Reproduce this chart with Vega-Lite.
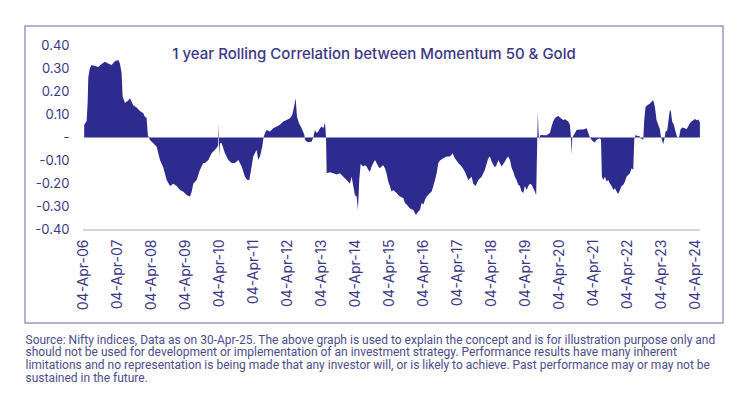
{
  "$schema": "https://vega.github.io/schema/vega-lite/v6.json",
  "width": 698,
  "height": 297,
  "padding": {"left": 25, "top": 26, "right": 27, "bottom": 0},
  "background": "white",
  "config": {
    "view": {"stroke": "#9a97c8", "strokeWidth": 1.5},
    "font": "Inter",
    "axis": {"labelOverlap": false}
  },
  "title": {
    "text": "1 year Rolling Correlation between Momentum 50 & Gold",
    "anchor": "middle",
    "offset": -36,
    "font": "Inter",
    "fontSize": 15,
    "fontWeight": 500,
    "color": "#3b3785"
  },
  "data": {
    "values": [
      {"date":"2006-04-14","v":0.054},{"date":"2006-04-29","v":0.065},{"date":"2006-05-10","v":0.07},{"date":"2006-05-21","v":0.15},{"date":"2006-05-28","v":0.26},{"date":"2006-06-14","v":0.30},{"date":"2006-07-02","v":0.314},{"date":"2006-08-07","v":0.31},{"date":"2006-09-12","v":0.305},{"date":"2006-10-18","v":0.318},{"date":"2006-11-23","v":0.328},{"date":"2006-12-28","v":0.32},{"date":"2007-02-02","v":0.314},{"date":"2007-03-10","v":0.33},{"date":"2007-04-15","v":0.335},{"date":"2007-05-03","v":0.32},{"date":"2007-05-21","v":0.278},{"date":"2007-06-01","v":0.177},{"date":"2007-06-26","v":0.149},{"date":"2007-07-31","v":0.16},{"date":"2007-08-18","v":0.17},{"date":"2007-09-23","v":0.14},{"date":"2007-10-29","v":0.13},{"date":"2007-12-04","v":0.115},{"date":"2008-01-08","v":0.105},{"date":"2008-01-26","v":0.09},{"date":"2008-02-13","v":0.085},{"date":"2008-02-27","v":0.01},{"date":"2008-03-20","v":-0.011},{"date":"2008-04-25","v":-0.025},{"date":"2008-06-01","v":-0.04},{"date":"2008-07-06","v":-0.097},{"date":"2008-08-11","v":-0.13},{"date":"2008-09-16","v":-0.184},{"date":"2008-10-22","v":-0.21},{"date":"2008-11-27","v":-0.20},{"date":"2009-01-01","v":-0.21},{"date":"2009-02-06","v":-0.227},{"date":"2009-03-14","v":-0.235},{"date":"2009-04-19","v":-0.249},{"date":"2009-05-25","v":-0.255},{"date":"2009-06-12","v":-0.235},{"date":"2009-06-29","v":-0.20},{"date":"2009-08-04","v":-0.184},{"date":"2009-09-09","v":-0.14},{"date":"2009-10-15","v":-0.11},{"date":"2009-11-02","v":-0.11},{"date":"2009-12-08","v":-0.097},{"date":"2010-01-12","v":-0.068},{"date":"2010-02-17","v":-0.053},{"date":"2010-03-17","v":-0.04},{"date":"2010-03-24","v":-0.03},{"date":"2010-03-28","v":0.063},{"date":"2010-04-01","v":-0.02},{"date":"2010-04-05","v":-0.08},{"date":"2010-04-12","v":-0.025},{"date":"2010-04-30","v":-0.025},{"date":"2010-06-04","v":-0.068},{"date":"2010-07-10","v":-0.097},{"date":"2010-08-15","v":-0.11},{"date":"2010-09-20","v":-0.11},{"date":"2010-10-26","v":-0.097},{"date":"2010-12-01","v":-0.126},{"date":"2011-01-05","v":-0.17},{"date":"2011-01-30","v":-0.184},{"date":"2011-02-20","v":-0.184},{"date":"2011-03-06","v":-0.155},{"date":"2011-04-04","v":-0.082},{"date":"2011-05-10","v":-0.053},{"date":"2011-05-28","v":-0.097},{"date":"2011-06-15","v":-0.082},{"date":"2011-07-10","v":-0.04},{"date":"2011-07-24","v":0.0},{"date":"2011-08-08","v":0.019},{"date":"2011-08-25","v":0.033},{"date":"2011-10-01","v":0.026},{"date":"2011-11-05","v":0.04},{"date":"2011-12-11","v":0.048},{"date":"2012-01-16","v":0.055},{"date":"2012-02-21","v":0.069},{"date":"2012-03-28","v":0.076},{"date":"2012-05-03","v":0.083},{"date":"2012-05-28","v":0.098},{"date":"2012-06-19","v":0.14},{"date":"2012-07-03","v":0.17},{"date":"2012-07-17","v":0.09},{"date":"2012-08-08","v":0.062},{"date":"2012-09-05","v":0.04},{"date":"2012-10-04","v":0.012},{"date":"2012-10-11","v":-0.01},{"date":"2012-10-29","v":-0.017},{"date":"2012-11-16","v":-0.02},{"date":"2012-12-22","v":-0.017},{"date":"2013-01-08","v":0.0},{"date":"2013-01-26","v":0.033},{"date":"2013-02-13","v":0.019},{"date":"2013-03-03","v":0.026},{"date":"2013-03-21","v":0.04},{"date":"2013-04-08","v":0.048},{"date":"2013-04-26","v":0.04},{"date":"2013-05-14","v":0.065},{"date":"2013-05-25","v":0.0},{"date":"2013-06-01","v":-0.155},{"date":"2013-07-06","v":-0.15},{"date":"2013-08-11","v":-0.155},{"date":"2013-09-16","v":-0.16},{"date":"2013-10-22","v":-0.155},{"date":"2013-11-27","v":-0.17},{"date":"2014-01-01","v":-0.184},{"date":"2014-02-06","v":-0.20},{"date":"2014-02-24","v":-0.17},{"date":"2014-03-14","v":-0.21},{"date":"2014-04-01","v":-0.25},{"date":"2014-04-19","v":-0.255},{"date":"2014-05-03","v":-0.314},{"date":"2014-05-17","v":-0.184},{"date":"2014-06-01","v":-0.115},{"date":"2014-06-29","v":-0.126},{"date":"2014-07-17","v":-0.12},{"date":"2014-08-04","v":-0.126},{"date":"2014-08-22","v":-0.14},{"date":"2014-09-09","v":-0.148},{"date":"2014-09-27","v":-0.126},{"date":"2014-10-15","v":-0.11},{"date":"2014-11-02","v":-0.097},{"date":"2014-11-19","v":-0.11},{"date":"2014-12-08","v":-0.126},{"date":"2014-12-25","v":-0.133},{"date":"2015-01-12","v":-0.126},{"date":"2015-01-30","v":-0.12},{"date":"2015-02-17","v":-0.133},{"date":"2015-03-06","v":-0.155},{"date":"2015-03-24","v":-0.19},{"date":"2015-04-11","v":-0.21},{"date":"2015-04-29","v":-0.234},{"date":"2015-05-17","v":-0.227},{"date":"2015-06-04","v":-0.234},{"date":"2015-06-22","v":-0.24},{"date":"2015-07-10","v":-0.249},{"date":"2015-07-27","v":-0.255},{"date":"2015-09-02","v":-0.262},{"date":"2015-09-20","v":-0.284},{"date":"2015-10-08","v":-0.29},{"date":"2015-11-13","v":-0.307},{"date":"2015-12-19","v":-0.314},{"date":"2016-01-16","v":-0.336},{"date":"2016-02-10","v":-0.32},{"date":"2016-02-28","v":-0.314},{"date":"2016-03-17","v":-0.284},{"date":"2016-04-04","v":-0.29},{"date":"2016-04-22","v":-0.27},{"date":"2016-05-10","v":-0.255},{"date":"2016-06-15","v":-0.24},{"date":"2016-07-03","v":-0.234},{"date":"2016-07-21","v":-0.21},{"date":"2016-08-08","v":-0.184},{"date":"2016-08-26","v":-0.155},{"date":"2016-09-12","v":-0.11},{"date":"2016-09-30","v":-0.10},{"date":"2016-11-05","v":-0.09},{"date":"2016-12-11","v":-0.082},{"date":"2017-01-16","v":-0.082},{"date":"2017-02-13","v":-0.068},{"date":"2017-03-10","v":-0.09},{"date":"2017-04-15","v":-0.11},{"date":"2017-05-21","v":-0.126},{"date":"2017-06-26","v":-0.148},{"date":"2017-07-31","v":-0.184},{"date":"2017-09-05","v":-0.17},{"date":"2017-09-23","v":-0.20},{"date":"2017-10-18","v":-0.21},{"date":"2017-11-16","v":-0.184},{"date":"2017-12-22","v":-0.17},{"date":"2018-01-26","v":-0.14},{"date":"2018-03-03","v":-0.09},{"date":"2018-03-21","v":-0.082},{"date":"2018-04-08","v":-0.104},{"date":"2018-04-26","v":-0.118},{"date":"2018-05-14","v":-0.13},{"date":"2018-06-01","v":-0.118},{"date":"2018-06-19","v":-0.097},{"date":"2018-07-06","v":-0.11},{"date":"2018-07-24","v":-0.126},{"date":"2018-08-29","v":-0.104},{"date":"2018-09-16","v":-0.09},{"date":"2018-10-04","v":-0.082},{"date":"2018-10-22","v":-0.097},{"date":"2018-11-08","v":-0.13},{"date":"2018-11-27","v":-0.148},{"date":"2018-12-14","v":-0.17},{"date":"2019-01-01","v":-0.184},{"date":"2019-01-19","v":-0.205},{"date":"2019-02-06","v":-0.21},{"date":"2019-02-24","v":-0.234},{"date":"2019-03-14","v":-0.24},{"date":"2019-04-01","v":-0.21},{"date":"2019-04-19","v":-0.227},{"date":"2019-05-07","v":-0.21},{"date":"2019-05-25","v":-0.20},{"date":"2019-06-12","v":-0.205},{"date":"2019-06-29","v":-0.22},{"date":"2019-07-17","v":-0.234},{"date":"2019-07-31","v":-0.25},{"date":"2019-08-11","v":-0.02},{"date":"2019-08-18","v":0.11},{"date":"2019-08-25","v":0.02},{"date":"2019-09-01","v":-0.01},{"date":"2019-09-16","v":0.012},{"date":"2019-10-15","v":0.01},{"date":"2019-11-19","v":0.01},{"date":"2019-12-25","v":0.019},{"date":"2020-01-12","v":0.048},{"date":"2020-01-30","v":0.07},{"date":"2020-02-17","v":0.083},{"date":"2020-03-06","v":0.09},{"date":"2020-03-24","v":0.093},{"date":"2020-04-22","v":0.083},{"date":"2020-05-17","v":0.076},{"date":"2020-06-04","v":0.079},{"date":"2020-07-10","v":0.069},{"date":"2020-07-27","v":0.055},{"date":"2020-08-08","v":0.0},{"date":"2020-08-15","v":-0.075},{"date":"2020-08-22","v":0.0},{"date":"2020-09-05","v":0.01},{"date":"2020-09-20","v":0.019},{"date":"2020-10-08","v":0.033},{"date":"2020-11-13","v":0.035},{"date":"2020-12-19","v":0.035},{"date":"2021-01-23","v":0.04},{"date":"2021-02-10","v":0.019},{"date":"2021-02-28","v":0.0},{"date":"2021-03-17","v":-0.01},{"date":"2021-04-04","v":-0.017},{"date":"2021-04-22","v":-0.022},{"date":"2021-05-10","v":-0.01},{"date":"2021-05-28","v":-0.007},{"date":"2021-06-15","v":-0.003},{"date":"2021-06-26","v":-0.01},{"date":"2021-07-06","v":-0.17},{"date":"2021-07-21","v":-0.184},{"date":"2021-08-08","v":-0.17},{"date":"2021-08-25","v":-0.19},{"date":"2021-09-12","v":-0.184},{"date":"2021-09-30","v":-0.20},{"date":"2021-10-18","v":-0.21},{"date":"2021-11-05","v":-0.227},{"date":"2021-11-23","v":-0.22},{"date":"2021-12-11","v":-0.234},{"date":"2021-12-28","v":-0.245},{"date":"2022-01-16","v":-0.227},{"date":"2022-02-03","v":-0.21},{"date":"2022-02-21","v":-0.205},{"date":"2022-03-11","v":-0.19},{"date":"2022-03-28","v":-0.17},{"date":"2022-04-15","v":-0.162},{"date":"2022-05-03","v":-0.155},{"date":"2022-05-21","v":-0.133},{"date":"2022-06-08","v":-0.14},{"date":"2022-06-19","v":-0.005},{"date":"2022-07-03","v":0.012},{"date":"2022-07-21","v":0.005},{"date":"2022-08-11","v":0.008},{"date":"2022-08-25","v":-0.003},{"date":"2022-09-09","v":-0.007},{"date":"2022-09-23","v":-0.01},{"date":"2022-10-04","v":0.076},{"date":"2022-10-18","v":0.133},{"date":"2022-11-08","v":0.14},{"date":"2022-12-04","v":0.147},{"date":"2022-12-22","v":0.155},{"date":"2023-01-08","v":0.162},{"date":"2023-01-26","v":0.133},{"date":"2023-02-13","v":0.076},{"date":"2023-03-03","v":0.055},{"date":"2023-03-21","v":0.036},{"date":"2023-04-01","v":0.004},{"date":"2023-04-12","v":-0.01},{"date":"2023-04-26","v":-0.028},{"date":"2023-05-07","v":-0.01},{"date":"2023-05-21","v":0.026},{"date":"2023-06-08","v":0.03},{"date":"2023-06-22","v":0.076},{"date":"2023-07-06","v":0.12},{"date":"2023-07-17","v":0.113},{"date":"2023-07-31","v":0.069},{"date":"2023-08-18","v":0.055},{"date":"2023-09-05","v":0.026},{"date":"2023-09-20","v":0.004},{"date":"2023-10-04","v":-0.003},{"date":"2023-10-15","v":0.004},{"date":"2023-10-29","v":0.036},{"date":"2023-11-19","v":0.043},{"date":"2023-12-14","v":0.04},{"date":"2024-01-01","v":0.036},{"date":"2024-01-19","v":0.048},{"date":"2024-02-06","v":0.062},{"date":"2024-02-24","v":0.069},{"date":"2024-03-14","v":0.075},{"date":"2024-04-01","v":0.08},{"date":"2024-04-19","v":0.075},{"date":"2024-05-07","v":0.078},{"date":"2024-05-17","v":0.07},{"date":"2024-05-24","v":0.065}
    ]
  },
  "layer": [
    {
      "mark": {"type": "area", "color": "#2e2b8f", "interpolate": "linear"},
      "encoding": {
        "x": {
          "field": "date",
          "type": "temporal",
          "scale": {
            "type": "utc",
            "domain": [
              {"year": 2004, "month": 7, "date": 17, "utc": true},
              {"year": 2025, "month": 1, "date": 27, "utc": true}
            ]
          },
          "axis": {
            "orient": "bottom",
            "offset": -93,
            "domain": false,
            "ticks": false,
            "tickSize": 0,
            "tickCount": 100,
            "grid": false,
            "labelOverlap": false,
            "labelAngle": -90,
            "labelPadding": 9,
            "labelFont": "Inter",
            "labelFontSize": 14,
            "labelColor": "#3b3785",
            "format": "%d-%b-%y",
            "values": [
              {"year": 2006, "month": 4, "date": 4, "utc": true},
              {"year": 2007, "month": 4, "date": 4, "utc": true},
              {"year": 2008, "month": 4, "date": 4, "utc": true},
              {"year": 2009, "month": 4, "date": 4, "utc": true},
              {"year": 2010, "month": 4, "date": 4, "utc": true},
              {"year": 2011, "month": 4, "date": 4, "utc": true},
              {"year": 2012, "month": 4, "date": 4, "utc": true},
              {"year": 2013, "month": 4, "date": 4, "utc": true},
              {"year": 2014, "month": 4, "date": 4, "utc": true},
              {"year": 2015, "month": 4, "date": 4, "utc": true},
              {"year": 2016, "month": 4, "date": 4, "utc": true},
              {"year": 2017, "month": 4, "date": 4, "utc": true},
              {"year": 2018, "month": 4, "date": 4, "utc": true},
              {"year": 2019, "month": 4, "date": 4, "utc": true},
              {"year": 2020, "month": 4, "date": 4, "utc": true},
              {"year": 2021, "month": 4, "date": 4, "utc": true},
              {"year": 2022, "month": 4, "date": 4, "utc": true},
              {"year": 2023, "month": 4, "date": 4, "utc": true},
              {"year": 2024, "month": 4, "date": 4, "utc": true}
            ],
            "title": [
              "Source: Nifty indices, Data as on 30-Apr-25. The above graph is used to explain the concept and is for illustration purpose only and",
              "should not be used for development or implementation of an investment strategy. Performance results have many inherent",
              "limitations and no representation is being made that any investor will, or is likely to achieve. Past performance may or may not be",
              "sustained in the future."
            ],
            "titleX": 0,
            "titleY": 104,
            "titleAlign": "left",
            "titleBaseline": "top",
            "titleFont": "Roboto",
            "titleFontSize": 12,
            "titleFontWeight": "normal",
            "titleLineHeight": 12.8,
            "titleColor": "#4d4b8a"
          }
        },
        "y": {
          "field": "v",
          "type": "quantitative",
          "scale": {"domain": [-0.803, 0.4827], "nice": false, "zero": false},
          "axis": {
            "orient": "left",
            "offset": -59,
            "domain": false,
            "ticks": false,
            "tickSize": 0,
            "tickCount": 100,
            "grid": false,
            "labelOverlap": false,
            "labelPadding": 15,
            "labelFont": "Inter",
            "labelFontSize": 13,
            "labelColor": "#3b3785",
            "values": [-0.4, -0.3, -0.2, -0.1, 0, 0.1, 0.2, 0.3, 0.4],
            "labelExpr": "datum.value == 0 ? '-' : (datum.value < 0 ? '-' + format(-datum.value, '.2f') : format(datum.value, '.2f'))",
            "title": null
          }
        },
        "y2": {"datum": 0}
      }
    },
    {
      "mark": {"type": "rule", "color": "#d3d3dc", "strokeWidth": 1.5},
      "encoding": {
        "x": {"datum": {"year": 2006, "month": 4, "date": 10, "utc": true}, "type": "temporal"},
        "x2": {"datum": {"year": 2024, "month": 5, "date": 24, "utc": true}},
        "y": {"datum": -0.4, "type": "quantitative"}
      }
    }
  ]
}
